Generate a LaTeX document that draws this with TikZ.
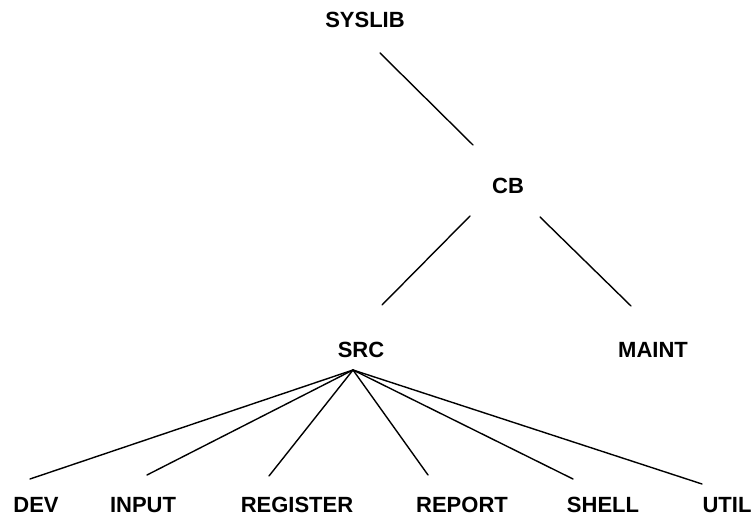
\documentclass[tikz,border=0pt]{standalone}
\usepackage{fontspec}
\setmainfont{Liberation Sans}
\begin{document}
\begin{tikzpicture}[x=1pt,y=1pt,
  dir/.style={font=\bfseries\fontsize{22}{22}\selectfont, inner sep=0pt, anchor=base},
  branch/.style={line width=1.4pt, line cap=round}]
\useasboundingbox (0,0) rectangle (755,516);

% directory names
\node[dir] (syslib)   at (365,488) {SYSLIB};
\node[dir] (cb)       at (508,322) {CB};
\node[dir] (src)      at (361,158) {SRC};
\node[dir] (maint)    at (653,158) {MAINT};
\node[dir] (dev)      at (36,3.5)  {DEV};
\node[dir] (input)    at (143,3.5) {INPUT};
\node[dir] (register) at (297,3.5) {REGISTER};
\node[dir] (report)   at (462,3.5) {REPORT};
\node[dir] (shell)    at (603,3.5) {SHELL};
\node[dir] (util)     at (727,3.5) {UTIL};

% end points of the branches
\coordinate (syslib-b) at (380,463);
\coordinate (cb-t)     at (473,371);
\coordinate (cb-bl)    at (470,300);
\coordinate (cb-br)    at (540,299);
\coordinate (src-t)    at (382,211);
\coordinate (maint-t)  at (631,210);
\coordinate (src-b)    at (353,146);
\coordinate (dev-t)    at (30,37);
\coordinate (input-t)  at (147,41);
\coordinate (register-t) at (269,40);
\coordinate (report-t) at (428,41);
\coordinate (shell-t)  at (573,37);
\coordinate (util-t)   at (702,32);

% tree branches
\draw[branch] (syslib-b) -- (cb-t);
\draw[branch] (cb-bl) -- (src-t);
\draw[branch] (cb-br) -- (maint-t);
\foreach \leaf in {dev,input,register,report,shell,util}
  \draw[branch] (src-b) -- (\leaf-t);
\end{tikzpicture}
\end{document}
